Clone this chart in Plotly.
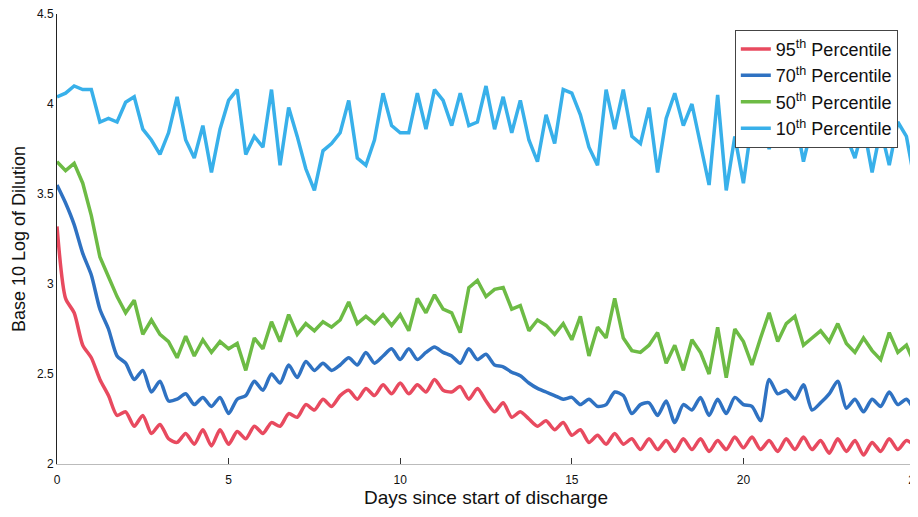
import plotly.graph_objects as go

# Time axis (days since start of discharge), sampled every 0.25 day
days = [i * 0.25 for i in range(101)]

p95 = [3.32, 2.92, 2.84, 2.66, 2.59, 2.47, 2.38, 2.27, 2.29, 2.21,
       2.27, 2.17, 2.22, 2.14, 2.12, 2.17, 2.11, 2.19, 2.10, 2.19,
       2.11, 2.18, 2.14, 2.21, 2.17, 2.23, 2.21, 2.28, 2.26, 2.33,
       2.30, 2.36, 2.32, 2.38, 2.41, 2.36, 2.42, 2.38, 2.44, 2.39,
       2.45, 2.39, 2.44, 2.40, 2.47, 2.41, 2.40, 2.43, 2.36, 2.42,
       2.35, 2.29, 2.34, 2.26, 2.29, 2.25, 2.21, 2.24, 2.19, 2.23,
       2.16, 2.19, 2.12, 2.16, 2.11, 2.17, 2.11, 2.14, 2.08, 2.14,
       2.08, 2.13, 2.07, 2.14, 2.08, 2.14, 2.07, 2.13, 2.08, 2.15,
       2.09, 2.15, 2.08, 2.13, 2.07, 2.14, 2.08, 2.15, 2.08, 2.13,
       2.06, 2.14, 2.07, 2.13, 2.05, 2.12, 2.07, 2.14, 2.08, 2.13,
       2.10]

p70 = [3.55, 3.45, 3.33, 3.17, 3.05, 2.86, 2.75, 2.60, 2.56, 2.47,
       2.52, 2.40, 2.46, 2.35, 2.36, 2.39, 2.33, 2.37, 2.32, 2.37,
       2.28, 2.36, 2.38, 2.46, 2.41, 2.50, 2.45, 2.55, 2.48, 2.57,
       2.52, 2.56, 2.52, 2.55, 2.59, 2.55, 2.62, 2.56, 2.60, 2.64,
       2.58, 2.64, 2.58, 2.62, 2.65, 2.62, 2.60, 2.56, 2.64, 2.58,
       2.61, 2.55, 2.54, 2.51, 2.49, 2.45, 2.42, 2.40, 2.38, 2.36,
       2.37, 2.33, 2.36, 2.32, 2.33, 2.40, 2.38, 2.28, 2.33, 2.34,
       2.27, 2.35, 2.23, 2.33, 2.30, 2.37, 2.27, 2.36, 2.28, 2.37,
       2.33, 2.32, 2.24, 2.47, 2.39, 2.41, 2.36, 2.44, 2.30, 2.34,
       2.39, 2.46, 2.31, 2.36, 2.29, 2.36, 2.32, 2.40, 2.33, 2.36,
       2.29]

p50 = [3.68, 3.63, 3.67, 3.56, 3.38, 3.15, 3.04, 2.93, 2.84, 2.91,
       2.72, 2.80, 2.72, 2.68, 2.59, 2.71, 2.60, 2.69, 2.62, 2.68,
       2.64, 2.67, 2.52, 2.70, 2.64, 2.79, 2.68, 2.83, 2.72, 2.78,
       2.74, 2.79, 2.76, 2.80, 2.90, 2.78, 2.82, 2.78, 2.83, 2.77,
       2.83, 2.74, 2.92, 2.84, 2.94, 2.86, 2.84, 2.73, 2.98, 3.02,
       2.93, 2.97, 2.98, 2.86, 2.88, 2.74, 2.80, 2.77, 2.72, 2.78,
       2.69, 2.82, 2.60, 2.76, 2.70, 2.92, 2.70, 2.63, 2.62, 2.66,
       2.73, 2.56, 2.66, 2.52, 2.69, 2.62, 2.50, 2.76, 2.48, 2.75,
       2.68, 2.55, 2.70, 2.84, 2.68, 2.78, 2.82, 2.66, 2.70, 2.74,
       2.68, 2.78, 2.67, 2.62, 2.70, 2.63, 2.58, 2.73, 2.62, 2.66,
       2.55]

p10 = [4.04, 4.06, 4.10, 4.08, 4.08, 3.90, 3.92, 3.90, 4.01, 4.04,
       3.86, 3.80, 3.72, 3.84, 4.04, 3.80, 3.70, 3.88, 3.62, 3.86,
       4.02, 4.08, 3.72, 3.82, 3.76, 4.08, 3.66, 3.98, 3.82, 3.64,
       3.52, 3.74, 3.78, 3.84, 4.02, 3.70, 3.66, 3.80, 4.06, 3.88,
       3.84, 3.84, 4.06, 3.86, 4.08, 4.02, 3.88, 4.06, 3.88, 3.90,
       4.10, 3.86, 4.04, 3.84, 4.02, 3.80, 3.68, 3.94, 3.78, 4.08,
       4.06, 3.94, 3.76, 3.66, 4.08, 3.86, 4.08, 3.82, 3.78, 3.98,
       3.62, 3.92, 4.06, 3.88, 4.00, 3.78, 3.55, 4.05, 3.52, 3.82,
       3.56, 3.90, 3.95, 3.75, 3.92, 3.86, 3.94, 3.68, 3.88, 3.92,
       3.85, 3.94, 3.82, 3.70, 3.88, 3.62, 3.86, 3.66, 3.90, 3.82,
       3.56]

names = ["95<sup>th</sup> Percentile", "70<sup>th</sup> Percentile",
         "50<sup>th</sup> Percentile", "10<sup>th</sup> Percentile"]
colors = ["#e84a5f", "#2f72c2", "#6dbb45", "#38b0ea"]
shapes = ["spline", "spline", "linear", "linear"]
series = [p95, p70, p50, p10]

x_ticks = [0, 5, 10, 15, 20, 25]
y_ticks = [2, 2.5, 3, 3.5, 4, 4.5]

fig = go.Figure()
for name, col, shp, vals in zip(names, colors, shapes, series):
    fig.add_trace(go.Scatter(x=days, y=vals, mode="lines", name=name,
                             line=dict(color=col, width=3.5, shape=shp,
                                       smoothing=0.7 if shp == "spline" else None)))

font = "Liberation Sans, Arial, sans-serif"
# The page body adds an 8px margin, so the figure is 8px smaller and margins shifted.
fig.update_layout(
    width=910, height=509,
    margin=dict(l=49, r=3, t=6, b=53),
    paper_bgcolor="white", plot_bgcolor="white",
    font=dict(family=font, color="#111"),
    showlegend=True,
    legend=dict(x=0.79, y=0.965, xanchor="left", yanchor="top",
                bgcolor="white", bordercolor="#444", borderwidth=1,
                font=dict(size=18, family=font, color="#111"),
                tracegroupgap=0, itemwidth=30),
    xaxis=dict(range=[0, 25], tickvals=x_ticks, ticktext=[str(t) for t in x_ticks],
               showgrid=False, zeroline=False, showline=True, linecolor="#bbb",
               linewidth=1, ticks="inside", ticklen=6, tickcolor="#333",
               tickfont=dict(size=12), ticklabelstandoff=5,
               ticklabeloverflow="allow", automargin=False,
               title=dict(text="Days since start of discharge", font=dict(size=19),
                          standoff=2)),
    yaxis=dict(range=[2, 4.5], tickvals=y_ticks, ticktext=["2", "2.5", "3", "3.5", "4", "4.5"],
               showgrid=False, zeroline=False, showline=True, linecolor="#222",
               linewidth=1, ticks="", tickfont=dict(size=12), automargin=False,
               ticklabeloverflow="allow",
               title=dict(text="Base 10 Log of Dilution", font=dict(size=18),
                          standoff=6)),
)

fig.write_html("out.html")
